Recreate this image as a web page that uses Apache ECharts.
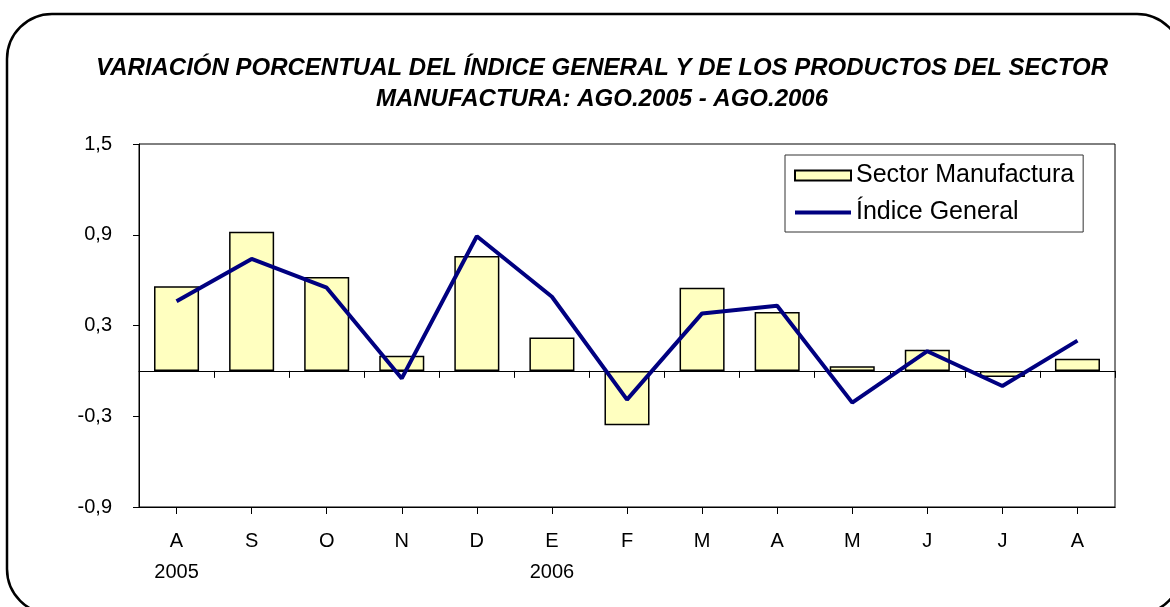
<!DOCTYPE html>
<html>
<head>
<meta charset="utf-8">
<script src="https://cdn.jsdelivr.net/npm/echarts@6/dist/echarts.min.js"></script>
<style>
  html, body { margin: 0; padding: 0; background: #fff; }
  #main { width: 1170px; height: 607px; }
</style>
</head>
<body>
<div id="main"></div>
<script>
// meses ago.2005 - ago.2006
var meses = ['A', 'S', 'O', 'N', 'D', 'E', 'F', 'M', 'A', 'M', 'J', 'J', 'A'];
var anios = ['2005', '', '', '', '', '2006', '', '', '', '', '', '', ''];
var sectorManufactura = [0.56, 0.92, 0.62, 0.10, 0.76, 0.22, -0.36, 0.55, 0.39, 0.03, 0.14, -0.04, 0.08];
var indiceGeneral = [0.46, 0.74, 0.55, -0.05, 0.89, 0.49, -0.19, 0.38, 0.43, -0.21, 0.13, -0.10, 0.20];

var myChart = echarts.init(document.getElementById('main'));
var font = 'Liberation Sans, Arial, sans-serif';

var option = {
    backgroundColor: '#fff',
    animation: false,
    title: {
        text: 'VARIACIÓN PORCENTUAL DEL ÍNDICE GENERAL Y DE LOS PRODUCTOS DEL SECTOR\nMANUFACTURA: AGO.2005 - AGO.2006',
        left: 597,
        top: 48,
        textAlign: 'center',
        textStyle: {
            fontFamily: font,
            fontSize: 24,
            lineHeight: 31,
            fontStyle: 'italic',
            fontWeight: 'bold',
            color: '#000'
        }
    },
    legend: {
        orient: 'vertical',
        left: 785,
        top: 155,
        padding: [8, 9, 7, 8],
        itemGap: 12,
        itemWidth: 56,
        itemHeight: 10,
        borderColor: '#333',
        borderWidth: 1,
        backgroundColor: '#fff',
        textStyle: { fontFamily: font, fontSize: 25, lineHeight: 25, color: '#000' },
        data: [
            { name: 'Sector Manufactura', icon: 'rect' },
            {
                name: 'Índice General',
                itemStyle: { color: 'rgba(0,0,0,0)', borderColor: 'rgba(0,0,0,0)', borderWidth: 0, opacity: 0 },
                lineStyle: { color: '#000080', width: 4 }
            }
        ]
    },
    grid: {
        left: 139, right: 55, top: 144, bottom: 100,
        show: true, borderColor: '#000', borderWidth: 1,
        containLabel: false
    },
    xAxis: [
        {
            type: 'category',
            data: meses,
            position: 'bottom',
            axisLine: { onZero: false, lineStyle: { color: '#000', width: 1 } },
            axisTick: { show: false },
            axisLabel: {
                margin: 19,
                fontFamily: font,
                fontSize: 20,
                lineHeight: 31,
                color: '#000',
                formatter: function (v, i) { return anios[i] ? v + '\n' + anios[i] : v; }
            }
        },
        {
            type: 'category',
            data: meses,
            position: 'bottom',
            axisLine: { onZero: true, lineStyle: { color: '#000', width: 1 } },
            axisTick: { show: true, length: 7, lineStyle: { color: '#000' } },
            axisLabel: { show: false }
        },
        {
            type: 'category',
            data: meses,
            position: 'bottom',
            axisLine: { onZero: true, lineStyle: { color: '#000', width: 1 } },
            axisTick: { show: true, alignWithLabel: true, length: 7, lineStyle: { color: '#000' } },
            axisLabel: { show: false }
        }
    ],
    yAxis: {
        type: 'value',
        min: -0.9,
        max: 1.5,
        interval: 0.6,
        splitLine: { show: false },
        axisLine: { show: true, lineStyle: { color: '#000', width: 1 } },
        axisTick: { show: true, length: 6, lineStyle: { color: '#000' } },
        axisLabel: {
            margin: 27,
            fontFamily: font,
            fontSize: 20,
            color: '#000',
            formatter: function (v) { return v.toFixed(1).replace('.', ','); }
        }
    },
    series: [
        {
            name: 'Sector Manufactura',
            type: 'bar',
            xAxisIndex: 0,
            barWidth: '60%',
            data: sectorManufactura,
            itemStyle: { color: '#FFFFC0', borderColor: '#000', borderWidth: 1.5 }
        },
        {
            name: 'Índice General',
            type: 'line',
            xAxisIndex: 0,
            symbol: 'none',
            data: indiceGeneral,
            lineStyle: { color: '#000080', width: 4 },
            itemStyle: { color: '#000080' }
        }
    ],
    graphic: [
        {
            type: 'rect',
            shape: { x: 7, y: 14, width: 1175, height: 600, r: 45 },
            style: { fill: 'none', stroke: '#000', lineWidth: 2.5 },
            silent: true
        }
    ]
};
myChart.setOption(option);
</script>
</body>
</html>
